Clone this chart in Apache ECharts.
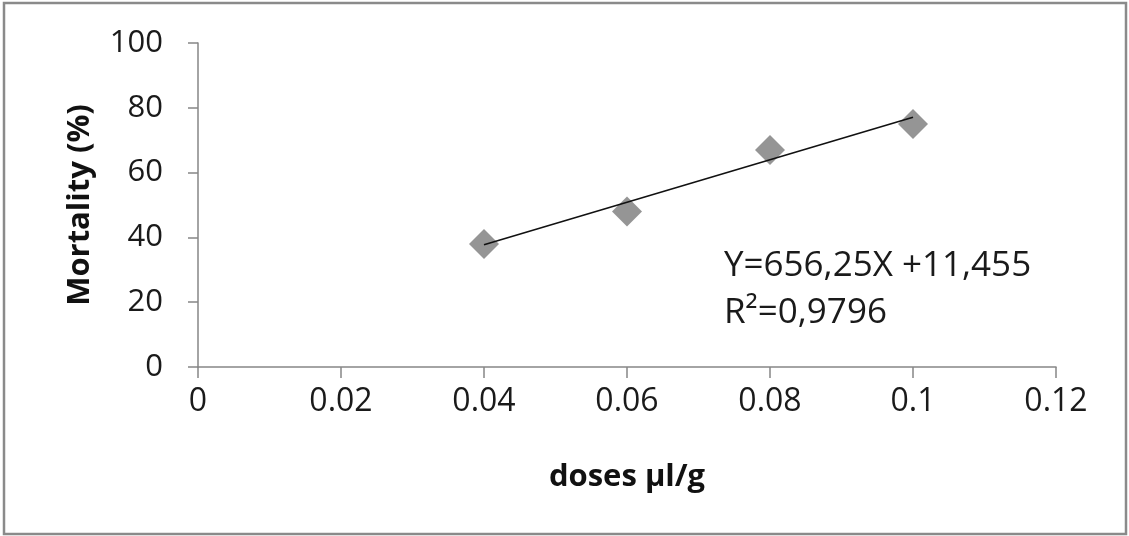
<!DOCTYPE html>
<html>
<head>
<meta charset="utf-8">
<script src="https://cdn.jsdelivr.net/npm/echarts@6/dist/echarts.min.js"></script>
<style>
  html, body { margin: 0; padding: 0; background: #fff; }
  #chart { width: 1129px; height: 536px; }
</style>
</head>
<body>
<div id="chart"></div>
<script>
// Dose (µl/g) and observed mortality (%)
const doses = [0.04, 0.06, 0.08, 0.1];
const mortality = [38, 48, 67, 75];

// Linear fit reported on the chart
const slope = 656.25;
const intercept = 11.455;
const rSquared = '0,9796';

const xTicks = { min: 0, max: 0.12, interval: 0.02 };
const yTicks = { min: 0, max: 100, interval: 20 };

const FONT = '"Open Sans", "Liberation Sans", sans-serif';
const AXIS_GREY = '#868686';

const fitLine = [doses[0], doses[doses.length - 1]].map(x => [x, slope * x + intercept]);
const commaNum = v => String(v).replace('.', ',');

const chart = echarts.init(document.getElementById('chart'), null, { renderer: 'canvas' });
chart.setOption({
  animation: false,
  backgroundColor: '#fff',
  grid: { left: 198, right: 73, top: 43, bottom: 169 },
  xAxis: {
    type: 'value',
    min: xTicks.min, max: xTicks.max, interval: xTicks.interval,
    name: 'doses µl/g',
    nameLocation: 'middle',
    nameGap: 95,
    nameTextStyle: { fontFamily: FONT, fontWeight: 'bold', fontSize: 31, color: '#111' },
    axisLine: { lineStyle: { color: AXIS_GREY, width: 1.5 } },
    axisTick: { show: true, length: 11, lineStyle: { color: AXIS_GREY, width: 1.5 } },
    axisLabel: {
      fontFamily: FONT, fontSize: 32, color: '#1a1a1a', margin: 19,
      formatter: v => String(+v.toFixed(2))
    },
    splitLine: { show: false }
  },
  yAxis: {
    type: 'value',
    min: yTicks.min, max: yTicks.max, interval: yTicks.interval,
    name: 'Mortality (%)',
    nameLocation: 'middle',
    nameGap: 102,
    nameRotate: 90,
    nameTextStyle: { fontFamily: FONT, fontWeight: 'bold', fontSize: 31, color: '#111' },
    axisLine: { show: true, lineStyle: { color: AXIS_GREY, width: 1.5 } },
    axisTick: { show: true, length: 10, lineStyle: { color: AXIS_GREY, width: 1.5 } },
    axisLabel: { fontFamily: FONT, fontSize: 31, color: '#1a1a1a', margin: 35 },
    splitLine: { show: false }
  },
  series: [
    {
      name: 'Mortality',
      type: 'scatter',
      symbol: 'diamond',
      symbolSize: 30,
      itemStyle: { color: '#7a7a7a' },
      data: doses.map((d, i) => [d, mortality[i]]),
      z: 2
    },
    {
      name: 'Linear fit',
      type: 'line',
      data: fitLine,
      symbol: 'none',
      lineStyle: { color: '#111', width: 1.6 },
      z: 3
    }
  ],
  graphic: [
    {
      type: 'rect',
      shape: { x: 4, y: 3, width: 1122, height: 531 },
      style: { fill: 'none', stroke: '#8a8a8a', lineWidth: 2.5 },
      silent: true
    },
    {
      type: 'text',
      left: 724,
      top: 243,
      style: {
        text: 'Y=' + commaNum(slope) + 'X +' + commaNum(intercept) + '\nR²=' + rSquared,
        fill: '#1a1a1a',
        fontFamily: FONT,
        fontSize: 35,
        lineHeight: 47
      }
    }
  ]
});
</script>
</body>
</html>
